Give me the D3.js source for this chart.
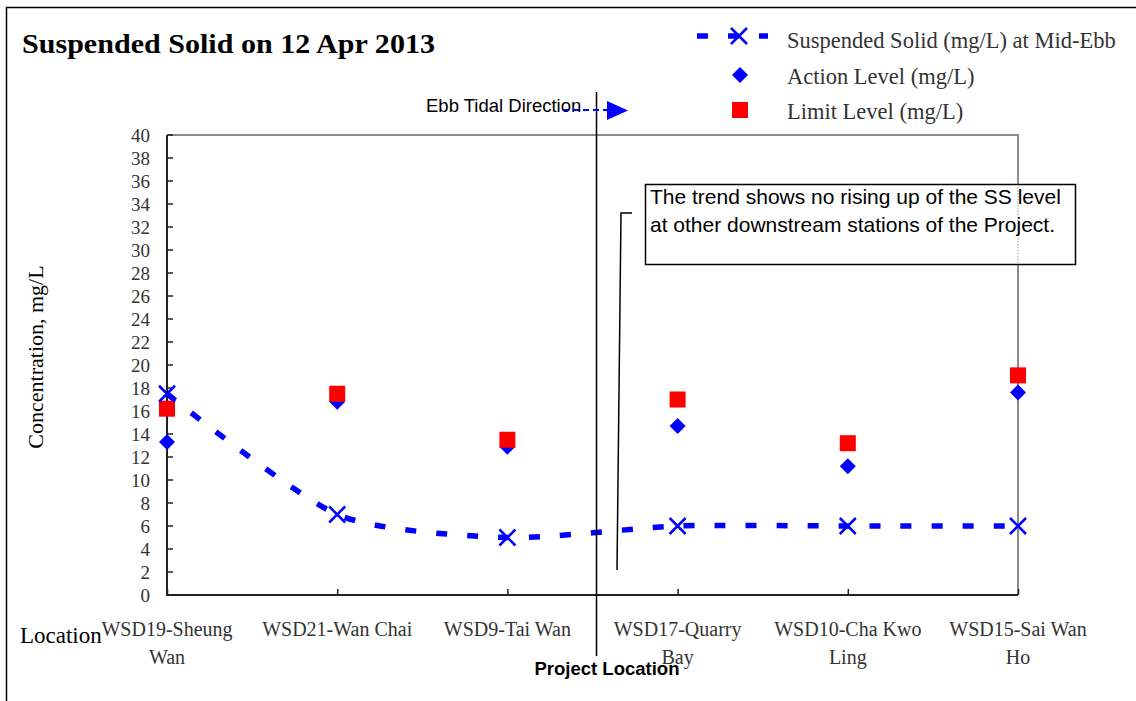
<!DOCTYPE html>
<html>
<head>
<meta charset="utf-8">
<script src="https://cdn.jsdelivr.net/npm/d3@7"></script>
<style>
  html, body { margin: 0; padding: 0; background: #fff; }
  svg { display: block; }
</style>
</head>
<body>
<svg id="chart" width="1136" height="701"></svg>
<script>
// ---- data ----
const categories = [
  ["WSD19-Sheung", "Wan"],
  ["WSD21-Wan Chai"],
  ["WSD9-Tai Wan"],
  ["WSD17-Quarry", "Bay"],
  ["WSD10-Cha Kwo", "Ling"],
  ["WSD15-Sai Wan", "Ho"]
];
const ssValues = [17.5, 7, 5, 6, 6, 6];
const actionLevel = [13.3, 16.8, 12.9, 14.7, 11.2, 17.6];
const limitLevel = [16.2, 17.5, 13.5, 17.0, 13.2, 19.1];
const yTicks = d3.range(0, 41, 2);
const seriesNames = ["Suspended Solid (mg/L) at Mid-Ebb", "Action Level (mg/L)", "Limit Level (mg/L)"];

// ---- layout ----
const svg = d3.select("#chart");
const L = 167, R = 1018, T = 135, B = 595;
const serif = "'Liberation Serif', 'Times New Roman', serif";
const sans = "'Liberation Sans', Arial, sans-serif";
const BLUE = "#0000ff", RED = "#ff0000";

const idx = categories.map((d, i) => i);
const x = d3.scalePoint().domain(idx).range([L, R]).padding(0);
const y = d3.scaleLinear().domain([0, 40]).range([B, T]);

svg.append("rect").attr("width", 1136).attr("height", 701).attr("fill", "#fff");
// outer border
svg.append("rect").attr("x", 6.5).attr("y", 7.5).attr("width", 1200).attr("height", 800)
  .attr("fill", "none").attr("stroke", "#000").attr("stroke-width", 1.5);

// title
svg.append("text").attr("x", 22).attr("y", 53).attr("font-family", serif)
  .attr("font-size", 28).attr("font-weight", "bold").attr("fill", "#000")
  .attr("textLength", 413).attr("lengthAdjust", "spacingAndGlyphs")
  .text("Suspended Solid on 12 Apr 2013");

// plot frame (top and right gray)
svg.append("path").attr("d", `M${L},${T}H${R}V${B}`).attr("fill", "none")
  .attr("stroke", "#8c8c8c").attr("stroke-width", 2);

// y axis
const yAxis = d3.axisLeft(y).tickValues(yTicks).tickSize(0).tickPadding(17);
const yg = svg.append("g").attr("transform", `translate(${L},0)`).call(yAxis);
yg.select(".domain").remove();
yg.selectAll("text").attr("font-family", serif).attr("font-size", 19).attr("fill", "#333");
yg.selectAll(".inTick").data(yTicks).enter().append("line")
  .attr("x1", 0).attr("x2", 6).attr("y1", d => y(d)).attr("y2", d => y(d))
  .attr("stroke", "#222").attr("stroke-width", 1.5);
svg.append("line").attr("x1", L).attr("x2", L).attr("y1", T).attr("y2", B + 1)
  .attr("stroke", "#222").attr("stroke-width", 2);

// x axis
const xAxis = d3.axisBottom(x).tickSize(-6).tickFormat("");
const xg = svg.append("g").attr("transform", `translate(0,${B})`).call(xAxis);
xg.select(".domain").attr("stroke", "#222").attr("stroke-width", 2).attr("d", `M${L},0H${R}`);
xg.selectAll(".tick line").attr("stroke", "#222").attr("stroke-width", 1.5);
categories.forEach((lines, i) => {
  const t = svg.append("text").attr("text-anchor", "middle").attr("font-family", serif)
    .attr("font-size", 20).attr("fill", "#333");
  lines.forEach((ln, j) => {
    t.append("tspan").attr("x", x(i)).attr("y", 636 + j * 28).text(ln);
  });
});

// axis titles
svg.append("text").attr("x", 20).attr("y", 643).attr("font-family", serif)
  .attr("font-size", 23).attr("fill", "#000").text("Location");
svg.append("text").attr("transform", "translate(43,357) rotate(-90)").attr("text-anchor", "middle")
  .attr("font-family", serif).attr("font-size", 22).attr("fill", "#000").text("Concentration, mg/L");

// SS line
const line = d3.line().x((d, i) => x(i)).y(d => y(d)).curve(d3.curveCardinal.tension(0.3));
svg.append("path").datum(ssValues).attr("d", line).attr("fill", "none")
  .attr("stroke", BLUE).attr("stroke-width", 5.5).attr("stroke-dasharray", "11,20");

function xMark(g, cx, cy, s) {
  g.append("path").attr("d", `M${cx - s},${cy - s}L${cx + s},${cy + s}M${cx - s},${cy + s}L${cx + s},${cy - s}`)
    .attr("stroke", BLUE).attr("stroke-width", 2.5).attr("fill", "none");
}
function diamond(g, cx, cy, s) {
  g.append("path").attr("d", `M${cx},${cy - s}L${cx + s},${cy}L${cx},${cy + s}L${cx - s},${cy}Z`).attr("fill", BLUE);
}
function square(g, cx, cy, s) {
  g.append("rect").attr("x", cx - s).attr("y", cy - s).attr("width", 2 * s).attr("height", 2 * s).attr("fill", RED);
}
const marks = svg.append("g");
actionLevel.forEach((v, i) => diamond(marks, x(i), y(v), 8));
limitLevel.forEach((v, i) => square(marks, x(i), y(v), 8));
ssValues.forEach((v, i) => xMark(marks, x(i), y(v), 8));

// annotation box
svg.append("rect").attr("x", 645.5).attr("y", 184.5).attr("width", 430).attr("height", 80)
  .attr("fill", "#fff").attr("stroke", "#000").attr("stroke-width", 1.5);
svg.append("line").attr("x1", R).attr("x2", R).attr("y1", 187).attr("y2", 263)
  .attr("stroke", "#999").attr("stroke-width", 1).attr("stroke-dasharray", "1.5,1.5");
const ann = svg.append("text").attr("font-family", sans).attr("font-size", 21).attr("fill", "#000");
ann.append("tspan").attr("x", 650).attr("y", 204).text("The trend shows no rising up of the SS level");
ann.append("tspan").attr("x", 650).attr("y", 232).text("at other downstream stations of the Project.");
// callout bracket line
svg.append("path").attr("d", "M617,570L621,213H632").attr("fill", "none")
  .attr("stroke", "#000").attr("stroke-width", 1.5);

// project location line
svg.append("line").attr("x1", 596.5).attr("x2", 596.5).attr("y1", 92).attr("y2", 656)
  .attr("stroke", "#000").attr("stroke-width", 1.5);
svg.append("text").attr("x", 607).attr("y", 675).attr("text-anchor", "middle")
  .attr("font-family", sans).attr("font-size", 18.5).attr("font-weight", "bold").attr("fill", "#000")
  .text("Project Location");

// Ebb tidal direction
svg.append("text").attr("x", 426).attr("y", 112).attr("font-family", sans)
  .attr("font-size", 18.5).attr("fill", "#000").text("Ebb Tidal Direction");
svg.append("line").attr("x1", 563).attr("x2", 608).attr("y1", 110).attr("y2", 110)
  .attr("stroke", BLUE).attr("stroke-width", 2).attr("stroke-dasharray", "6,4");
svg.append("path").attr("d", "M607,101L628,110.5L607,120Z").attr("fill", BLUE);

// legend
const lg = svg.append("g");
lg.append("line").attr("x1", 697).attr("x2", 768).attr("y1", 36).attr("y2", 36)
  .attr("stroke", BLUE).attr("stroke-width", 5.5).attr("stroke-dasharray", "11,20");
xMark(lg, 739, 36, 8);
diamond(lg, 740, 75, 8);
square(lg, 740, 110, 8);
seriesNames.forEach((s, i) => {
  lg.append("text").attr("x", 787).attr("y", 48 + i * 35.5).attr("font-family", serif)
    .attr("font-size", 22.5).attr("fill", "#333").text(s);
});
</script>
</body>
</html>
